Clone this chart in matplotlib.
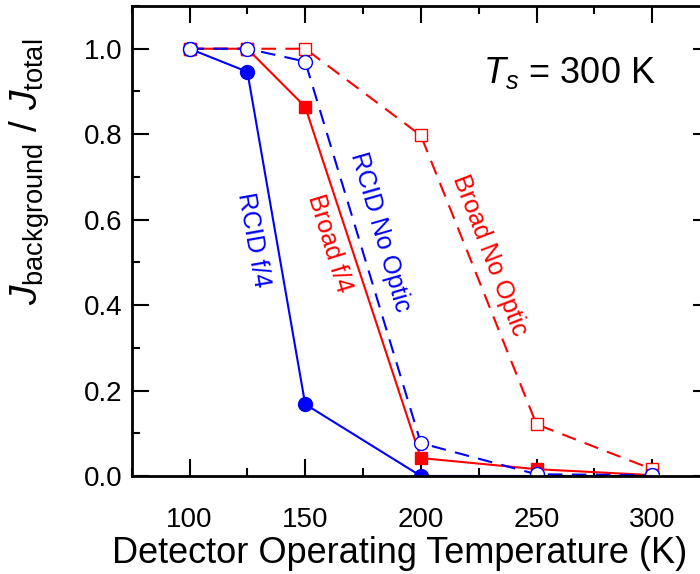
import matplotlib
matplotlib.use("Agg")
import matplotlib.pyplot as plt
from matplotlib.ticker import MultipleLocator, FormatStrFormatter

plt.rcParams['font.family'] = ['Liberation Sans', 'DejaVu Sans']
plt.rcParams['mathtext.fontset'] = 'custom'
plt.rcParams['mathtext.rm'] = 'Liberation Sans'
plt.rcParams['mathtext.it'] = 'Liberation Sans:italic'

temps = [100, 125, 150, 200, 250, 300]
rcid_f4 = [1.0, 0.946, 0.168, 0.0, 0.0, 0.0]
rcid_no_optic = [1.0, 1.0, 0.970, 0.077, 0.004, 0.002]
broad_f4 = [1.0, 1.0, 0.864, 0.042, 0.016, 0.002]
broad_no_optic = [1.0, 1.0, 1.0, 0.797, 0.121, 0.016]

blue = '#0000ff'
red = '#ff0000'

fig = plt.figure(figsize=(7.0, 5.74), dpi=100)
ax = fig.add_axes([131.7/700, (574-476)/574, (710-131.7)/700, (476-6)/574])

lw = 1.5
dash = (0, (7, 4.5))
ax.plot(temps, broad_no_optic, color=red, lw=lw, ls=dash, marker='s', ms=9,
        mfc='white', mec=red, mew=1.0, zorder=3)
ax.plot(temps, broad_f4, color=red, lw=lw, ls='-', marker='s', ms=9,
        mfc=red, mec=red, zorder=4)
ax.plot(temps, rcid_f4, color=blue, lw=lw, ls='-', marker='o', ms=10,
        mfc=blue, mec=blue, zorder=5)
ax.plot(temps, rcid_no_optic, color=blue, lw=lw, ls=dash, marker='o', ms=10,
        mfc='white', mec=blue, mew=1.0, zorder=6)

ax.set_xlim(75, 325)
ax.set_ylim(0, 1.1)
ax.xaxis.set_major_locator(MultipleLocator(50))
ax.xaxis.set_minor_locator(MultipleLocator(25))
ax.yaxis.set_major_locator(MultipleLocator(0.2))
ax.yaxis.set_minor_locator(MultipleLocator(0.1))
ax.yaxis.set_major_formatter(FormatStrFormatter('%.1f'))

ax.tick_params(which='both', direction='in', top=True, right=True, width=1.5)
ax.tick_params(which='major', length=12, labelsize=20)
ax.tick_params(axis='x', which='major', pad=22)
ax.tick_params(axis='y', which='major', pad=6.5)
ax.tick_params(which='minor', length=6)
for s in ax.spines.values():
    s.set_linewidth(2)
    s.set_zorder(10)

ax.set_xlabel('Detector Operating Temperature (K)', fontsize=26)
ax.xaxis.set_label_coords((400 - 131.7) / 578.3, -0.128)
ax.set_ylabel(r'$J_{\mathrm{background}}$ / $J_{\mathrm{total}}$', fontsize=28)
ax.yaxis.set_label_coords(-0.137, (476 - 172) / 470)


def px2x(px):
    return 75 + (px - 131.7) / 2.315


def py2y(py):
    return (476 - py) / 428


ann_kw = dict(fontsize=18, ha='center', va='center', rotation_mode='anchor')
ax.text(px2x(253), py2y(240), 'RCID f/4', color=blue, rotation=-80, **ann_kw)
ax.text(px2x(330), py2y(243), 'Broad f/4', color=red, rotation=-73, **ann_kw)
ax.text(px2x(380), py2y(232), 'RCID No Optic', color=blue, rotation=-74, **ann_kw)
ax.text(px2x(490), py2y(255), 'Broad No Optic', color=red, rotation=-69, **ann_kw)

ax.text(px2x(570), py2y(72), r'$T_s$ = 300 K', fontsize=26, ha='center', va='center')

fig.savefig('out.png', dpi=100)
